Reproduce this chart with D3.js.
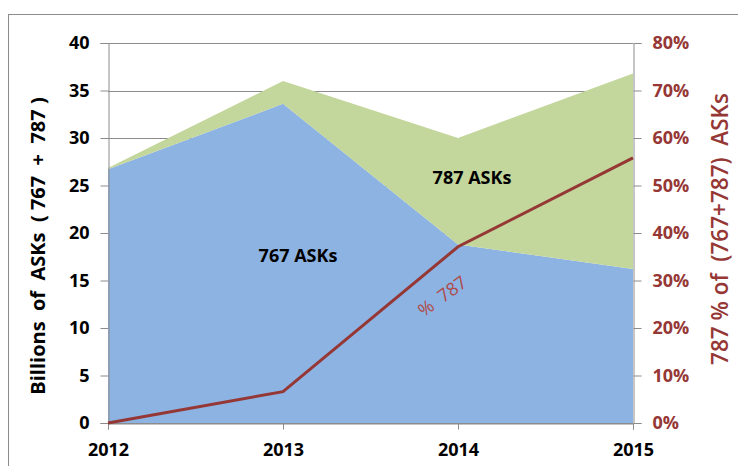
<!DOCTYPE html>
<html>
<head>
<meta charset="utf-8">
<script src="https://cdn.jsdelivr.net/npm/d3@7"></script>
<style>
  body { margin: 0; background: #fff; }
  text { font-family: 'Open Sans', Lato, sans-serif; white-space: pre; }
</style>
</head>
<body>
<div id="chart"></div>
<script>
var years = [2012, 2013, 2014, 2015]
var asks767 = [26.7, 33.6, 18.8, 16.2]
var asks787 = [0.15, 2.4, 11.2, 20.6]
var pct787 = [0, 6.6, 37.1, 55.8]
var leftTicks = [0, 5, 10, 15, 20, 25, 30, 35, 40]
var rightTicks = [0, 10, 20, 30, 40, 50, 60, 70, 80]

var margin = { top: 43, left: 108, right: 105, bottom: 43 }
var width = 738 - margin.left - margin.right
var height = 466 - margin.top - margin.bottom

var red = '#953735'
var grid = '#8c8c8c'

var root = d3
  .select('#chart')
  .append('svg')
  .attr('width', 738)
  .attr('height', 466)

// chart frame
root
  .append('rect')
  .attr('x', 8.5)
  .attr('y', 14.5)
  .attr('width', 760)
  .attr('height', 500)
  .attr('fill', 'none')
  .attr('stroke', '#8c8c8c')

var svg = root
  .append('g')
  .attr('transform', 'translate(' + margin.left + ',' + margin.top + ')')

var xPositionScale = d3.scalePoint().domain(years).range([0, width])
var yPositionScale = d3.scaleLinear().domain([0, 40]).range([height, 0])
var pctScale = d3.scaleLinear().domain([0, 80]).range([height, 0])

// gridlines
svg
  .append('g')
  .selectAll('line')
  .data(leftTicks)
  .enter()
  .append('line')
  .attr('x1', 0)
  .attr('x2', width)
  .attr('y1', d => Math.round(yPositionScale(d)) + 0.5)
  .attr('y2', d => Math.round(yPositionScale(d)) + 0.5)
  .attr('stroke', grid)

var rows = years.map(function(y, i) {
  return { year: y, a767: asks767[i], a787: asks787[i] }
})
var stacked = d3.stack().keys(['a767', 'a787'])(rows)
var colors = { a767: '#8db3e2', a787: '#c3d69b' }

var area = d3
  .area()
  .x(d => xPositionScale(d.data.year))
  .y0(d => yPositionScale(d[0]))
  .y1(d => yPositionScale(d[1]))

svg
  .selectAll('.layer')
  .data(stacked)
  .enter()
  .append('path')
  .attr('class', 'layer')
  .attr('d', area)
  .attr('fill', d => colors[d.key])

// axes
var xAxis = d3.axisBottom(xPositionScale).tickSize(6).tickPadding(14)
svg
  .append('g')
  .attr('class', 'axis x-axis')
  .attr('transform', 'translate(0,' + (height + 0.5) + ')')
  .call(xAxis)

var yAxis = d3.axisLeft(yPositionScale).tickValues(leftTicks).tickSize(8).tickPadding(11)
svg
  .append('g')
  .attr('class', 'axis y-axis')
  .attr('transform', 'translate(0.5,0)')
  .call(yAxis)

var yAxisRight = d3
  .axisRight(pctScale)
  .tickValues(rightTicks)
  .tickFormat(d => d + '%')
  .tickSize(8)
  .tickPadding(11)
svg
  .append('g')
  .attr('class', 'axis y-right')
  .attr('transform', 'translate(' + (width + 0.5) + ',0)')
  .call(yAxisRight)

svg.selectAll('.axis path, .axis line').attr('stroke', grid)
svg.selectAll('.axis text').attr('font-size', 18).attr('font-weight', 'bold')
svg.selectAll('.x-axis text, .y-axis text').attr('fill', '#000')
svg.selectAll('.y-right text').attr('fill', red)

// percentage line
var line = d3
  .line()
  .x((d, i) => xPositionScale(years[i]))
  .y(d => pctScale(d))
svg
  .append('path')
  .datum(pct787)
  .attr('d', line)
  .attr('stroke', red)
  .attr('stroke-width', 3)
  .attr('fill', 'none')

// labels
svg
  .append('text')
  .text('767 ASKs')
  .attr('x', xPositionScale(2013) + 15)
  .attr('y', yPositionScale(16.9))
  .attr('text-anchor', 'middle')
  .attr('font-size', 18)
  .attr('font-weight', 'bold')
  .attr('fill', '#000')

svg
  .append('text')
  .text('787 ASKs')
  .attr('x', xPositionScale(2014) + 14)
  .attr('y', yPositionScale(25.2))
  .attr('text-anchor', 'middle')
  .attr('font-size', 18)
  .attr('font-weight', 'bold')
  .attr('fill', '#000')

svg
  .append('text')
  .text('%  787')
  .attr('transform', 'translate(' + (xPositionScale(2014) - 12) + ',' + pctScale(25.6) + ') rotate(-36)')
  .attr('text-anchor', 'middle')
  .attr('font-size', 18)
  .attr('fill', '#b04a48')

// axis titles
root
  .append('text')
  .text('Billions  of  ASKs  ( 767  +  787 )')
  .attr('transform', 'translate(45,246) rotate(-90)')
  .attr('text-anchor', 'middle')
  .attr('font-size', 20)
  .attr('font-weight', 'bold')
  .attr('fill', '#000')

root
  .append('text')
  .text('787 % of  (767+787)  ASKs')
  .attr('transform', 'translate(728,229) rotate(-90)')
  .attr('text-anchor', 'middle')
  .attr('font-size', 22.5)
  .attr('font-weight', 600)
  .attr('fill', red)
</script>
</body>
</html>
